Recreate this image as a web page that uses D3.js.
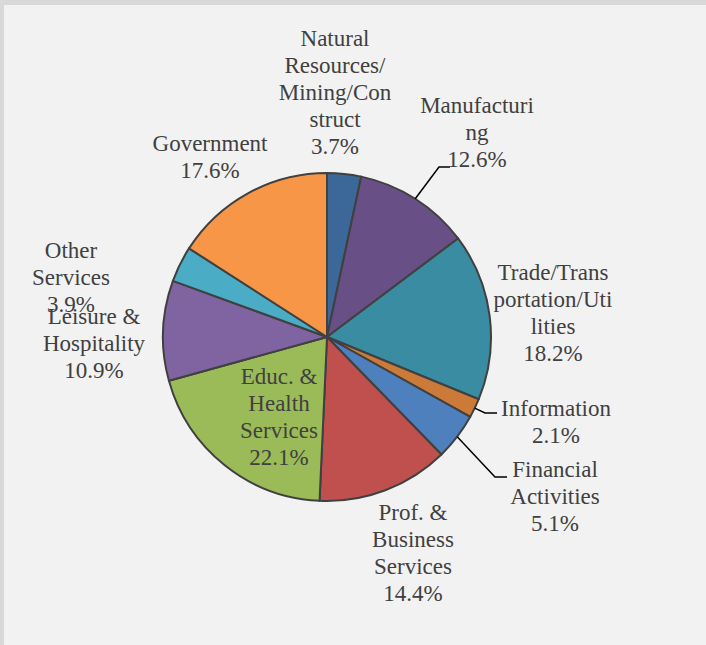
<!DOCTYPE html>
<html>
<head>
<meta charset="utf-8">
<script src="https://cdn.jsdelivr.net/npm/d3@7"></script>
<style>
  html, body { margin: 0; padding: 0; background: #d9d9d9; }
  svg { display: block; }
  text.lbl { font-family: "Liberation Serif", "Times New Roman", Times, "DejaVu Serif", serif; font-size: 23px; fill: #404040; }
</style>
</head>
<body>
<svg id="chart" width="706" height="645"></svg>
<script>
// ---- data ----
const categories = [
  "Natural Resources/Mining/Construct",
  "Manufacturing",
  "Trade/Transportation/Utilities",
  "Information",
  "Financial Activities",
  "Prof. & Business Services",
  "Educ. & Health Services",
  "Leisure & Hospitality",
  "Other Services",
  "Government"
];
const values = [3.7, 12.6, 18.2, 2.1, 5.1, 14.4, 22.1, 10.9, 3.9, 17.6];
const labelLines = [
  ["Natural", "Resources/", "Mining/Con", "struct"],
  ["Manufacturi", "ng"],
  ["Trade/Trans", "portation/Uti", "lities"],
  ["Information"],
  ["Financial", "Activities"],
  ["Prof. &", "Business", "Services"],
  ["Educ. &", "Health", "Services"],
  ["Leisure &", "Hospitality"],
  ["Other", "Services"],
  ["Government"]
];
const colors = ["#3c6799", "#684f86", "#3a8ca3", "#cc7a38", "#4d80bd",
                "#c0504d", "#9bbb59", "#8064a2", "#4bacc6", "#f79646"];

// ---- layout (label anchors and leader elbows) ----
const labelPos = [
  [335, 38], [477, 105], [553, 272], [556, 408], [555, 469],
  [413, 512], [279, 376], [94, 316], [71, 250], [210, 143]
];
const leaders = { // index -> [elbow, end]
  1: [[439, 167], [450, 167]],
  3: [[485, 413], [497, 413]],
  4: [[495, 477], [507, 477]]
};

const W = 706, H = 645;
const cx = 327, cy = 337, R = 164;
const lineH = 27;

const svg = d3.select("#chart");
svg.append("rect").attr("x", 4).attr("y", 5).attr("width", W).attr("height", H)
  .attr("fill", "#f2f2f2");

const data = categories.map((c, i) => ({ name: c, value: values[i], i }));
const pie = d3.pie().value(d => d.value).sort(null).startAngle(0).endAngle(2 * Math.PI);
const arcs = pie(data);
const arc = d3.arc().innerRadius(0).outerRadius(R);

const g = svg.append("g").attr("transform", `translate(${cx},${cy})`);
g.selectAll("path.slice").data(arcs).join("path")
  .attr("class", "slice")
  .attr("d", arc)
  .attr("fill", d => colors[d.data.i])
  .attr("stroke", "#404040")
  .attr("stroke-width", 2)
  .attr("stroke-linejoin", "round");

// leader lines
Object.keys(leaders).forEach(k => {
  const a = arcs[+k];
  const mid = (a.startAngle + a.endAngle) / 2;
  const sx = cx + R * Math.sin(mid), sy = cy - R * Math.cos(mid);
  const [e, t] = leaders[k];
  svg.append("polyline")
    .attr("points", [[sx, sy], e, t].map(p => p.join(",")).join(" "))
    .attr("fill", "none").attr("stroke", "#000").attr("stroke-width", 1.5);
});

// labels
arcs.forEach((a, i) => {
  const lines = labelLines[i].concat([d3.format(".1f")(values[i]) + "%"]);
  const [x, y] = labelPos[i];
  const t = svg.append("text")
    .attr("class", "lbl")
    .attr("text-anchor", "middle");
  lines.forEach((ln, j) => {
    t.append("tspan").attr("x", x).attr("y", y + j * lineH).attr("dy", "0.35em").text(ln);
  });
});
</script>
</body>
</html>
